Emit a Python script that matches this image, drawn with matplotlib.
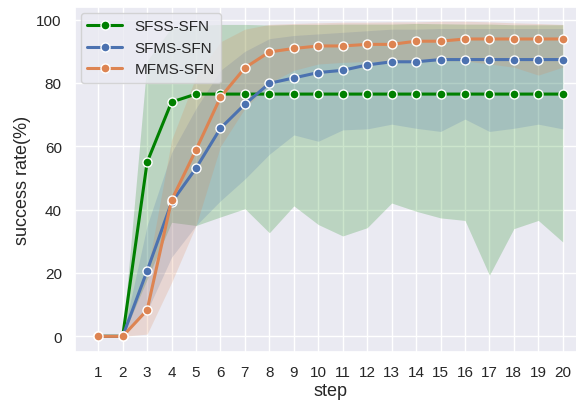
import numpy as np
import matplotlib
matplotlib.use("Agg")
import matplotlib.pyplot as plt
import seaborn as sns

steps = list(range(1, 21))

# mean success rate per step
sfss_mean = [0, 0, 55, 74, 76.5, 76.5, 76.5, 76.5, 76.5, 76.5,
             76.5, 76.5, 76.5, 76.5, 76.5, 76.5, 76.5, 76.5, 76.5, 76.5]
sfms_mean = [0, 0, 20.7, 42.3, 53.1, 65.7, 73.3, 79.9, 81.6, 83.3,
             84.0, 85.7, 86.7, 86.7, 87.4, 87.4, 87.4, 87.4, 87.4, 87.4]
mfms_mean = [0, 0, 8.3, 43.0, 58.9, 75.5, 84.8, 89.8, 90.9, 91.7,
             91.7, 92.2, 92.2, 93.2, 93.2, 93.9, 93.9, 93.9, 93.9, 93.9]

# confidence bands (lower / upper)
sfss_low = [0, 0, 18, 36, 35, 37.7, 40.3, 32.7, 41.2, 35.3,
            31.7, 34.3, 42.1, 39.5, 37.4, 36.6, 19.3, 34.0, 36.6, 29.8]
sfss_high = [0, 0, 87, 97.5, 98.2, 98.5, 98.5, 98.3, 98.5, 98.5,
             98.6, 98.6, 98.6, 98.8, 98.7, 98.6, 98.6, 98.4, 98.4, 98.4]
sfms_low = [0, 0, 8, 25, 35, 42.8, 49.7, 57.5, 63.6, 61.6,
            65.2, 65.5, 67.0, 65.7, 64.7, 68.6, 64.7, 65.7, 67.0, 65.5]
sfms_high = [0, 0, 35, 58, 72, 84, 90, 94, 95, 95.5,
             96, 96.5, 97, 97, 97.2, 97.2, 97.2, 97.2, 97.2, 97.2]
mfms_low = [0, 0, 0.7, 17, 35, 60, 72, 80, 84, 86,
            86.5, 86.8, 86.8, 87, 87, 87, 86, 85, 82.5, 85]
mfms_high = [0, 0, 20, 62, 82, 93, 97, 98.5, 98.8, 99,
             99.2, 99.2, 99.3, 99.3, 99.5, 99.5, 99.3, 99, 98.8, 98.5]

names = ["SFSS-SFN", "SFMS-SFN", "MFMS-SFN"]
colors = ["green", "#4c72b0", "#dd8452"]
means = [sfss_mean, sfms_mean, mfms_mean]
lows = [sfss_low, sfms_low, mfms_low]
highs = [sfss_high, sfms_high, mfms_high]

sns.set_theme(style="darkgrid")
plt.rcParams['font.family'] = ['Liberation Sans', 'DejaVu Sans']

fig = plt.figure(figsize=(5.76, 4.02), dpi=100)
ax = fig.add_axes([75 / 576, 1 - 353 / 402, 511 / 576, 345 / 402])

for lo, hi, c in zip(lows, highs, colors):
    ax.fill_between(steps, lo, hi, color=c, alpha=0.2, linewidth=0)

for m, c, n in zip(means, colors, names):
    ax.plot(steps, m, color=c, lw=2.2, marker="o", markersize=6.5,
            markeredgecolor="white", markeredgewidth=1, label=n)

ax.set_xlim(0.05, 20.95)
ax.set_ylim(-4.95, 104)
ax.set_xticks(steps)
ax.set_yticks([0, 20, 40, 60, 80, 100])
ax.tick_params(labelsize=11)
ax.set_xlabel("step", fontsize=13, labelpad=2)
ax.set_ylabel("success rate(%)", fontsize=13)
ax.legend(loc="upper left", fontsize=11, handlelength=2.3, borderaxespad=0.4)

fig.savefig("out.png", dpi=100)
